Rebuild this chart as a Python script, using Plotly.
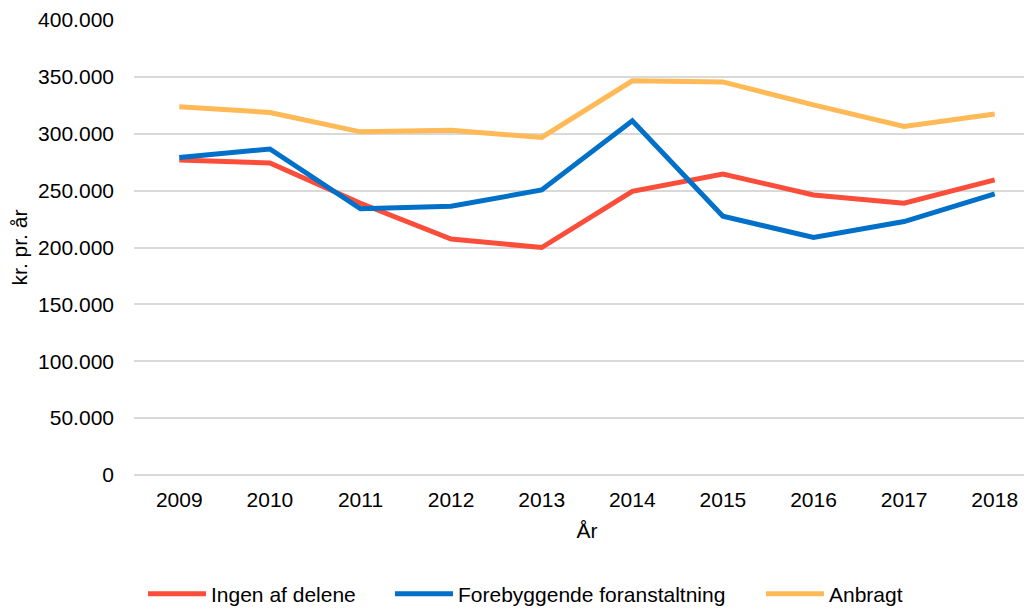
import plotly.graph_objects as go

years = ["2009", "2010", "2011", "2012", "2013", "2014", "2015", "2016", "2017", "2018"]
ingen = [277000, 274300, 238900, 207400, 200000, 249400, 264600, 246200, 238900, 259400]
forebyg = [279200, 286600, 234000, 236200, 250600, 311400, 227500, 208800, 222800, 247100]
anbragt = [323700, 318700, 301700, 303000, 296800, 346500, 345600, 325400, 306400, 317300]

series = [
    ("Ingen af delene", ingen, "#FA4D3A", "legend"),
    ("Forebyggende foranstaltning", forebyg, "#0070C8", "legend2"),
    ("Anbragt", anbragt, "#FFB957", "legend3"),
]

fig = go.Figure()
for name, vals, col, lg in series:
    fig.add_trace(go.Scatter(x=years, y=vals, name=name, mode="lines",
                             line=dict(color=col, width=5), legend=lg))

font = "Liberation Sans, Arial, sans-serif"
fs = 21
# the page body adds an 8px offset; margins compensate for it
L, R = 126, 1032
W = R - L

def leg(px):
    return dict(orientation="h", x=(px - 15 - L) / W, xanchor="left",
                y=-0.307, yanchor="bottom", font=dict(size=fs),
                itemwidth=58, bgcolor="rgba(0,0,0,0)")

fig.update_layout(
    width=1032, height=609,
    margin=dict(l=L, r=0, t=12, b=142),
    plot_bgcolor="white", paper_bgcolor="white",
    separators=",.",
    font=dict(family=font, size=fs, color="#000000"),
    xaxis=dict(type="category", range=[-0.5, 9.5], showgrid=False,
               showline=False, ticks="", tickfont=dict(size=fs),
               automargin=False, ticklabelstandoff=10,
               title=dict(text="År", font=dict(size=fs), standoff=13)),
    yaxis=dict(range=[0, 400000], dtick=50000, tickformat=",d",
               showgrid=True, gridcolor="#d9d9d9", gridwidth=1.5,
               zeroline=True, zerolinecolor="#d9d9d9", zerolinewidth=1.5,
               ticks="", tickfont=dict(size=fs), automargin=False,
               ticklabelstandoff=19,
               title=dict(text="kr. pr. år", font=dict(size=fs), standoff=8)),
    legend=leg(150),
    legend2=leg(397),
    legend3=leg(768),
    showlegend=True,
)

fig.write_html("out.html")
